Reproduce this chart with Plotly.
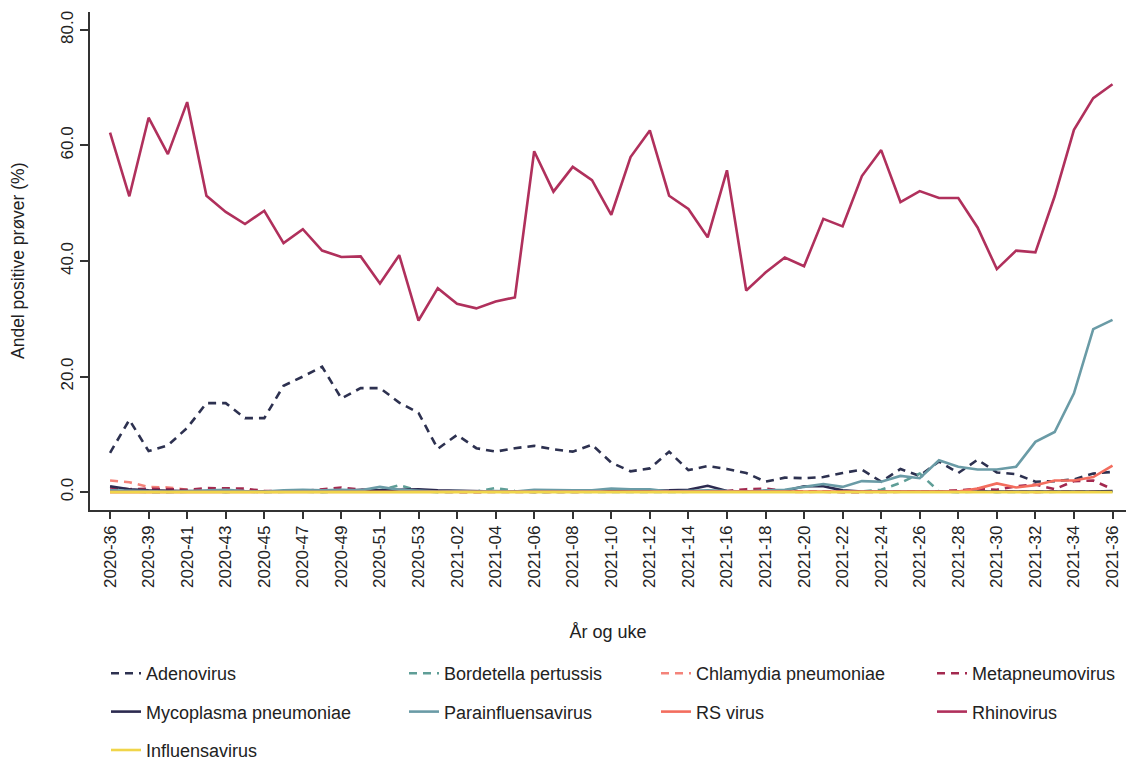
import plotly.graph_objects as go

# Week categories (2020-37 has no data, so the series skips it)
weeks = ["2020-36", "2020-38"] + [f"2020-{w}" for w in range(39, 54)] + [f"2021-{w:02d}" for w in range(1, 37)]
tick_weeks = ["2020-36"] + [f"2020-{w}" for w in range(39, 54, 2)] + [f"2021-{w:02d}" for w in range(2, 37, 2)]

adenovirus = [6.8, 12.5, 7.1, 8.1, 11.1, 15.4, 15.4, 12.8, 12.8, 18.4,
              20.0, 21.7, 16.2, 18.0, 18.0, 15.5, 13.7, 7.5, 9.9, 7.6,
              7.0, 7.6, 8.0, 7.4, 7.0, 8.2, 5.1, 3.6, 4.1, 7.0,
              3.8, 4.5, 4.0, 3.3, 1.8, 2.5, 2.4, 2.6, 3.3, 3.9,
              1.8, 4.0, 2.8, 5.3, 3.3, 5.6, 3.4, 3.1, 1.8, 1.9,
              2.2, 3.2, 3.5]
bordetella = [0.3, 0.1, 0.0, 0.0, 0.1, 0.1, 0.0, 0.1, 0.0, 0.1,
              0.1, 0.0, 0.1, 0.1, 0.3, 1.2, 0.2, 0.0, 0.0, 0.1,
              0.7, 0.2, 0.0, 0.0, 0.1, 0.0, 0.1, 0.0, 0.0, 0.0,
              0.1, 0.0, 0.0, 0.0, 0.1, 0.0, 0.1, 0.0, 0.0, 0.1,
              0.4, 1.6, 3.2, 0.1, 0.0, 0.1, 0.0, 0.0, 0.1, 0.0,
              0.1, 0.1, 0.1]
chlamydia = [2.0, 1.7, 0.9, 0.8, 0.4, 0.3, 0.2, 0.3, 0.1, 0.1,
             0.1, 0.1, 0.1, 0.1, 0.0, 0.1, 0.0, 0.0, 0.0, 0.0,
             0.0, 0.0, 0.0, 0.0, 0.0, 0.1, 0.0, 0.0, 0.0, 0.1,
             0.1, 0.0, 0.1, 0.2, 0.1, 0.1, 0.0, 0.1, 0.1, 0.0,
             0.0, 0.0, 0.1, 0.1, 0.3, 0.2, 0.1, 0.1, 0.0, 0.1,
             0.1, 0.1, 0.1]
metapneumovirus = [0.8, 0.5, 0.6, 0.5, 0.4, 0.7, 0.7, 0.6, 0.2, 0.1,
                   0.2, 0.5, 0.8, 0.4, 0.2, 0.1, 0.1, 0.0, 0.0, 0.0,
                   0.0, 0.0, 0.0, 0.0, 0.0, 0.0, 0.0, 0.0, 0.0, 0.0,
                   0.1, 0.1, 0.2, 0.5, 0.6, 0.2, 0.1, 0.0, 0.0, 0.0,
                   0.0, 0.0, 0.1, 0.1, 0.3, 0.6, 0.4, 1.0, 1.3, 0.5,
                   1.9, 2.0, 0.5]
mycoplasma = [1.0, 0.5, 0.3, 0.2, 0.1, 0.1, 0.1, 0.1, 0.1, 0.1,
              0.1, 0.2, 0.2, 0.4, 0.3, 0.4, 0.5, 0.3, 0.2, 0.2,
              0.1, 0.1, 0.2, 0.2, 0.2, 0.2, 0.2, 0.2, 0.2, 0.3,
              0.4, 1.1, 0.2, 0.1, 0.1, 0.2, 1.0, 1.0, 0.3, 0.1,
              0.1, 0.1, 0.1, 0.0, 0.0, 0.1, 0.1, 0.0, 0.0, 0.0,
              0.1, 0.1, 0.2]
parainfluensavirus = [0.3, 0.2, 0.1, 0.1, 0.2, 0.3, 0.4, 0.2, 0.1, 0.3,
                      0.4, 0.3, 0.4, 0.3, 0.9, 0.4, 0.2, 0.1, 0.2, 0.1,
                      0.2, 0.1, 0.4, 0.3, 0.3, 0.3, 0.6, 0.5, 0.5, 0.1,
                      0.2, 0.3, 0.2, 0.1, 0.3, 0.4, 0.9, 1.4, 0.9, 1.9,
                      1.8, 2.8, 2.4, 5.5, 4.4, 3.9, 3.9, 4.4, 8.7, 10.4,
                      17.1, 28.2, 29.8]
rs_virus = [0.0, 0.0, 0.0, 0.0, 0.0, 0.0, 0.0, 0.0, 0.0, 0.0,
            0.0, 0.0, 0.0, 0.0, 0.0, 0.0, 0.0, 0.0, 0.0, 0.0,
            0.0, 0.0, 0.0, 0.0, 0.0, 0.0, 0.0, 0.0, 0.0, 0.0,
            0.0, 0.0, 0.0, 0.0, 0.0, 0.0, 0.0, 0.0, 0.0, 0.0,
            0.0, 0.0, 0.0, 0.0, 0.1, 0.6, 1.5, 0.8, 1.2, 2.0,
            2.0, 2.6, 4.6]
rhinovirus = [62.2, 51.2, 64.8, 58.5, 67.5, 51.3, 48.5, 46.4, 48.7, 43.1,
              45.5, 41.8, 40.7, 40.8, 36.1, 41.0, 29.7, 35.3, 32.6, 31.8,
              33.0, 33.7, 59.0, 52.0, 56.3, 54.0, 48.0, 58.0, 62.6, 51.3,
              49.0, 44.1, 55.7, 34.9, 38.0, 40.6, 39.1, 47.3, 46.0, 54.7,
              59.2, 50.2, 52.1, 50.9, 50.9, 45.8, 38.6, 41.8, 41.5, 51.2,
              62.7, 68.2, 70.6]
influensavirus = [0.0] * len(weeks)

# name, values, colour, dash, legend column
series = [
    ("Adenovirus", adenovirus, "#2d3150", "8px,6px", "legend"),
    ("Bordetella pertussis", bordetella, "#5f9e97", "8px,6px", "legend2"),
    ("Chlamydia pneumoniae", chlamydia, "#f4837a", "8px,6px", "legend3"),
    ("Metapneumovirus", metapneumovirus, "#a3294f", "8px,6px", "legend4"),
    ("Mycoplasma pneumoniae", mycoplasma, "#2c2a50", "solid", "legend"),
    ("Parainfluensavirus", parainfluensavirus, "#6a9ba6", "solid", "legend2"),
    ("RS virus", rs_virus, "#f36d5e", "solid", "legend3"),
    ("Rhinovirus", rhinovirus, "#b0305c", "solid", "legend4"),
    ("Influensavirus", influensavirus, "#f0d54a", "solid", "legend"),
]

fig = go.Figure()
for name, vals, color, dash, leg in series:
    fig.add_trace(go.Scatter(
        x=weeks, y=vals, name=name, mode="lines",
        line=dict(color=color, width=2.6, dash=dash),
        legend=leg, legendgroup=name,
    ))

FONT = "Liberation Sans, Arial, sans-serif"
TXT = "#222222"

W, H = 1126, 763
L, R, T, B = 90, 0, 12, 253


def cx(x):
    return x / W


def cy(y):
    return 1 - y / H


# Four legend columns in container coordinates; margins are fixed
leg_common = dict(
    orientation="v", xanchor="left", yanchor="top",
    xref="container", yref="container",
    font=dict(family=FONT, size=18, color=TXT),
    bgcolor="rgba(0,0,0,0)", tracegroupgap=12, itemwidth=30,
)
legend_top = cy(655)

fig.update_layout(
    width=W, height=H,
    margin=dict(l=L, r=R, t=T, b=B, autoexpand=False),
    paper_bgcolor="white", plot_bgcolor="white",
    font=dict(family=FONT, size=17, color=TXT),
    showlegend=True,
    legend=dict(x=cx(106), y=legend_top, **leg_common),
    legend2=dict(x=cx(404), y=legend_top, **leg_common),
    legend3=dict(x=cx(656), y=legend_top, **leg_common),
    legend4=dict(x=cx(932), y=legend_top, **leg_common),
    xaxis=dict(
        type="category", categoryorder="array", categoryarray=weeks,
        range=[-1.04, 52.7],
        tickmode="array", tickvals=tick_weeks, ticktext=tick_weeks,
        tickangle=-90, ticks="outside", ticklen=7, tickwidth=1.5, tickcolor="#333",
        showline=True, linecolor="#333", linewidth=1.5,
        showgrid=False, zeroline=False,
        tickfont=dict(family=FONT, size=17, color=TXT),
        title=dict(text="År og uke", font=dict(family=FONT, size=18, color=TXT), standoff=38),
        automargin=False,
    ),
    yaxis=dict(
        range=[-3.1, 83.1],
        tickmode="array", tickvals=[0, 20, 40, 60, 80],
        ticktext=["0.0", "20.0", "40.0", "60.0", "80.0"],
        tickangle=-90, ticks="outside", ticklen=8, tickwidth=1.5, tickcolor="#333",
        showline=True, linecolor="#333", linewidth=1.5,
        showgrid=False, zeroline=False,
        tickfont=dict(family=FONT, size=17, color=TXT),
        automargin=False,
    ),
    annotations=[dict(
        text="Andel positive prøver (%)", textangle=-90,
        xref="paper", yref="paper", x=(18 - L) / (W - L - R), y=0.5,
        xanchor="center", yanchor="middle", showarrow=False,
        font=dict(family=FONT, size=17.5, color=TXT),
    )],
)

fig.write_html("out.html")
